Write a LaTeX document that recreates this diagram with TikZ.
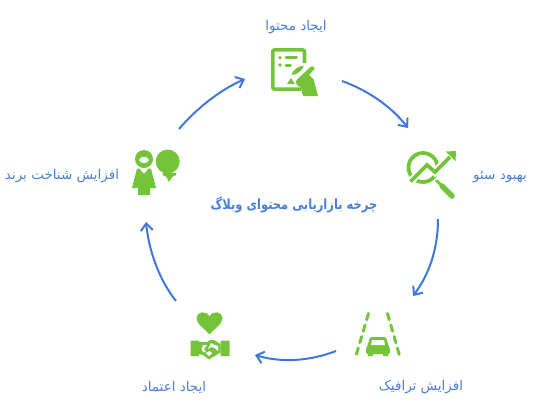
\documentclass[tikz,border=0pt]{standalone}
\usepackage{graphicx}
\usepackage{fontspec}
\usetikzlibrary{arrows.meta}
\TeXXeTstate=1
\newfontfamily\arabicfont[Script=Arabic]{DejaVu Sans}
\definecolor{gr}{HTML}{74C43A}
\definecolor{bl}{HTML}{3F78D9}
\definecolor{lb}{HTML}{4A7FD8}
\tikzset{
  lab/.style={text=lb,font=\arabicfont\fontsize{13.5}{16}\selectfont,inner sep=0pt},
  ttl/.style={text=lb,font=\arabicfont\bfseries\fontsize{14}{16}\selectfont,inner sep=0pt},
  arc/.style={draw=bl,line width=2pt,-{Straight Barb[length=7pt,width=12pt,line width=2pt]}},
  gf/.style={fill=gr,draw=none}
}
\begin{document}
\begin{tikzpicture}[x=1pt,y=-1pt]
\useasboundingbox (0,0) rectangle (544,416);
% labels
\node[lab] (l1) at (296,27) {\beginR ایجاد محتوا\endR};
\node[lab] (l2) at (500,177) {\beginR بهبود سئو\endR};
\node[lab] (l3) at (421,387) {\beginR افزایش ترافیک\endR};
\node[lab] (l4) at (174,387) {\beginR ایجاد اعتماد\endR};
\node[lab] (l5) at (62,176) {\beginR افزایش شناخت برند\endR};
\node[ttl] (t) at (294,205) {\scalebox{0.82}[1]{\beginR چرخه بازاریابی محتوای وبلاگ\endR}};
% connector ends
\coordinate (a1) at (179,129); \coordinate (b1) at (245,79);
\coordinate (a2) at (342,81);  \coordinate (b2) at (408,128);
\coordinate (a3) at (438,219); \coordinate (b3) at (413,296);
\coordinate (a4) at (336,351); \coordinate (b4) at (255,355);
\coordinate (a5) at (176,301); \coordinate (b5) at (146,222);
\draw[arc] (a1) .. controls (197,108) and (220,90) .. (b1);
\draw[arc] (a2) .. controls (367,90) and (391,106) .. (b2);
\draw[arc] (a3) .. controls (438,245) and (431,272) .. (b3);
\draw[arc] (a4) .. controls (310,361) and (282,363) .. (b4);
\draw[arc] (a5) .. controls (160,281) and (149,252) .. (b5);
% icon 1: content
\draw[gr,line width=3.6pt,rounded corners=2pt] (304.5,63) -- (304.5,49.8) -- (272.8,49.8) -- (272.8,89.2) -- (301,89.2);
\fill[gr] (280,57.8) circle (1.9) (280,65) circle (1.9);
\draw[gr,line width=3pt,line cap=round] (286,57.8) -- (296.5,57.8) (286,65) -- (290.5,65);
\fill[gr] (291.5,75) .. controls (293,69) and (299,66) .. (304,65.5) .. controls (302,71) and (297,75) .. (291.5,75) -- cycle;
\fill[gr] (287,84) -- (295,84) -- (291,78) -- cycle;
\fill[gr] (297,79.5) -- (311,66.5) .. controls (313,65.5) and (315,67) .. (314.5,69) -- (309,75) -- (313.5,79) -- (318,96) -- (303,96) -- (301,87.5) -- (297,85) .. controls (295.5,83) and (295.5,81) .. (297,79.5) -- cycle;
% icon 2: seo
\draw[gr,line width=3.8pt] (423,167.5) circle (14.5);
\draw[white,line width=7.5pt] (408,184) -- (427,165) -- (435,172) -- (451,156);
\draw[gr,line width=3.8pt] (410.5,181.5) -- (427,165) -- (435,172) -- (450,157);
\fill[gr] (446,151.5) -- (456,151) -- (455.5,161) -- cycle;
\draw[gr,line width=2.5pt] (436,180) -- (441,185);
\draw[gr,line width=5.5pt,line cap=round] (442,186) -- (452,196);
% icon 3: road
\draw[gr,line width=3pt,line cap=round,dash pattern=on 6.5pt off 5.5pt] (368.5,313.5) -- (355,359);
\draw[gr,line width=3pt,line cap=round,dash pattern=on 6.5pt off 5.5pt] (387.5,313.5) -- (400.5,359);
\fill[gr,rounded corners=1.5pt] (370,337) -- (386,337) -- (388.5,346) -- (390,348) -- (390,354) -- (366,354) -- (366,348) -- (367.5,346) -- cycle;
\fill[white] (372,340) -- (384,340) -- (385,345) -- (371,345) -- cycle;
\fill[gr] (368,353) rectangle (373,356) (383,353) rectangle (388,356);
% icon 4: handshake
\fill[gr] (209.5,334.5) .. controls (204,328) and (196.5,324) .. (196.5,318) .. controls (196.5,312) and (206,309.5) .. (209.5,316.5) .. controls (213,309.5) and (222.5,312) .. (222.5,318) .. controls (222.5,324) and (215,328) .. (209.5,334.5) -- cycle;
\fill[gr] (190.5,340.5) -- (199,340.5) -- (199,356) -- (190.5,356) -- cycle (220.5,340.5) -- (229.5,340.5) -- (229.5,356) -- (220.5,356) -- cycle;
\fill[gr] (199,342) -- (207,342) -- (210,340) -- (214,340) -- (220.5,344) -- (220.5,352.5) -- (209,359.5) -- (203,355) -- (199,354) -- cycle;
\fill[white] (203,345) -- (207,345) -- (204,349) -- (206,352) -- (203,352) -- (201.5,349) -- cycle;
\fill[white] (211,343) -- (215,345) -- (218,346) -- (218,351) -- (215,348) -- (211,347) -- (208,349) -- cycle;
\fill[white] (209.5,351) -- (212,353) -- (209,356) -- (205.5,353) -- cycle;
% icon 5: brand
\fill[gr] (144,159) circle (9);
\fill[white] (144,160) ellipse (4.8 and 3.2);
\fill[gr] (139.5,168.5) -- (144,174) -- (148.5,168.5) -- (151,168.5) -- (156,188) -- (150,188) -- (150,195) -- (138,195) -- (138,188) -- (132,188) -- (137,168.5) -- cycle;
\fill[gr] (167.7,161.5) circle (12);
\fill[gr] (162.5,173) -- (176,173) -- (176,175) -- (172,177) -- (169,182) -- (166.5,177) -- (162.5,175) -- cycle;
\end{tikzpicture}
\end{document}
